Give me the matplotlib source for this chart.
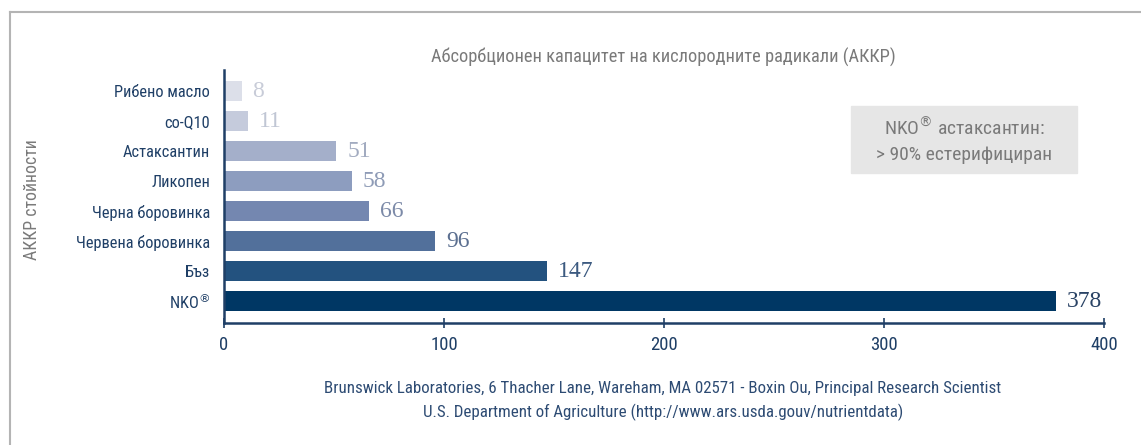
import matplotlib.pyplot as plt
from matplotlib.patches import Rectangle
from matplotlib.lines import Line2D
from matplotlib import font_manager

# data
categories = ["Рибено масло", "co-Q10", "Астаксантин", "Ликопен",
              "Черна боровинка", "Червена боровинка", "Бъз", "NKO$^{®}$"]
values = [8, 11, 51, 58, 66, 96, 147, 378]
bar_colors = ["#dcdfe9", "#c5cbdc", "#a4afca", "#8d9dbf", "#7487b0",
              "#52709b", "#23527f", "#003764"]
label_colors = ["#c8ccd8", "#c0c6d4", "#a2abc0", "#8e9bb6", "#7c8aa8",
                "#5b6f90", "#3c5a80", "#2a4365"]
xticks = [0, 100, 200, 300, 400]

title = "Абсорбционен капацитет на кислородните радикали (АККР)"
ylabel = "АККР стойности"
note = "NKO$^{®}$ астаксантин:\n> 90% естерифициран"
source = ["Brunswick Laboratories, 6 Thacher Lane, Wareham, MA 02571 - Boxin Ou, Principal Research Scientist",
          "U.S. Department of Agriculture (http://www.ars.usda.gouv/nutrientdata)"]

names = {f.name for f in font_manager.fontManager.ttflist}
narrow = [n for n in ["Liberation Sans Narrow", "DejaVu Sans Condensed", "Roboto Condensed",
                      "Open Sans Condensed", "Roboto"] if n in names] + ["DejaVu Sans"]
serif = ["Liberation Serif", "DejaVu Serif"]
navy = "#1f3f66"
grey = "#7a7a7a"

fig = plt.figure(figsize=(11.41, 4.45), dpi=100)
ax = fig.add_axes([0.1963, 0.2742, 0.9676 - 0.1963, 0.8427 - 0.2742])

pos = list(range(len(categories)))
ax.barh(pos, values, height=0.65, color=bar_colors)
for p, v, c in zip(pos, values, label_colors):
    ax.text(v + 5.0, p, str(v), va="center", ha="left", fontsize=17,
            family=serif, color=c)

ax.set_ylim(7.73, -0.7)
ax.set_xlim(0, 400)
ax.set_yticks(pos)
ax.set_yticklabels(categories, family=narrow, fontsize=11.8, color=navy)
ax.set_xticks(xticks)
ax.set_xticklabels([str(t) for t in xticks], family=narrow, fontsize=13.5, color=navy)
ax.tick_params(axis="y", length=0, pad=10)
ax.tick_params(axis="x", direction="inout", length=7, color=navy, width=1.2, pad=6)
for s in ["top", "right"]:
    ax.spines[s].set_visible(False)
for s in ["left", "bottom"]:
    ax.spines[s].set_color(navy)
    ax.spines[s].set_linewidth(1.8)

fig.text(663 / 1141, 1 - 57 / 445, title, ha="center", va="center",
         family=narrow, fontsize=13.2, color=grey)
fig.text(32 / 1141, 1 - 200 / 445, ylabel, ha="center", va="center",
         rotation=90, family=narrow, fontsize=12.8, color=grey)

# grey note box
fig.patches.append(Rectangle((851 / 1141, 1 - 173 / 445), 226 / 1141, 67 / 445,
                             transform=fig.transFigure, color="#e6e6e6", zorder=0))
fig.text(964 / 1141, 1 - 140 / 445, note, ha="center", va="center",
         family=narrow, fontsize=14, color=grey, linespacing=1.5)

fig.text(663 / 1141, 1 - 389 / 445, source[0], ha="center", va="center",
         family=narrow, fontsize=12.2, color="#2d4b73")
fig.text(663 / 1141, 1 - 412 / 445, source[1], ha="center", va="center",
         family=narrow, fontsize=12.2, color="#2d4b73")

# outer frame lines (top and left)
fig.add_artist(Line2D([10 / 1141, 1], [1 - 12 / 445] * 2, transform=fig.transFigure,
                      color="#b4b4b4", lw=1.5))
fig.add_artist(Line2D([10 / 1141] * 2, [0, 1 - 12 / 445], transform=fig.transFigure,
                      color="#b4b4b4", lw=1.5))

fig.savefig("out.png", dpi=100)
